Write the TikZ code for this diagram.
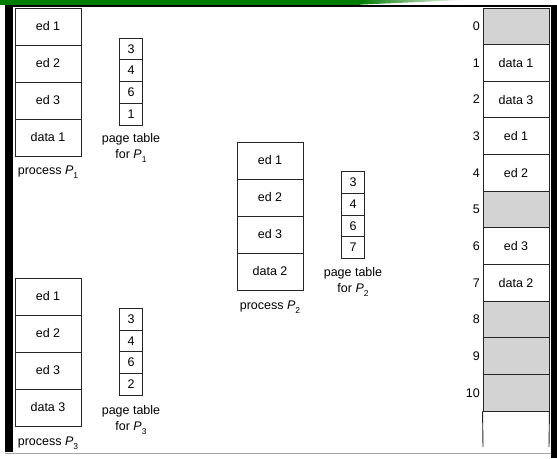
\documentclass[tikz,border=0pt]{standalone}
\usepackage{fontspec}
\setmainfont{Liberation Sans}
\definecolor{barGreen}{RGB}{0,125,0}
\definecolor{freeGray}{RGB}{211,211,211}
\newcommand\pidx[1]{\textit{P}\raisebox{-0.6ex}{\fontsize{8.5}{8.5}\selectfont #1}}
\begin{document}
\begin{tikzpicture}[x=1pt,y=-1pt,
  every node/.style={font=\fontsize{12.5}{16}\selectfont, inner sep=0pt},
  outline/.style={draw=black!85, line width=0.9pt},
  segbox/.style={outline, minimum width=66pt, minimum height=37pt},
  ptbox/.style={outline, minimum width=23.5pt, minimum height=21.7pt},
  framebox/.style={outline, minimum width=66pt, minimum height=36.64pt},
  freebox/.style={framebox, fill=freeGray},
  caption/.style={align=center},
  framenum/.style={anchor=east}
]
\useasboundingbox (0,0) rectangle (557,458);

% slide decoration: green band and black border
\fill[barGreen] (0,0) -- (360,0) -- (360,4.6) -- (0,4.6) -- cycle;
\shade[left color=barGreen, right color=white] (360,0) -- (465,0) -- (360,4.6) -- cycle;
\fill[black] (5,4.6) rectangle (557,7);
\fill[black] (5,4.6) rectangle (13,452);
\fill[black] (550.5,4.6) rectangle (557,458);
\draw[black!35, line width=1pt] (5,453) -- (550.5,453);

% process P1 and its page table
\foreach \t [count=\i] in {ed 1, ed 2, ed 3, data 1}
  \node[segbox] (pa\i) at (48, 37*\i-10.5) {\t};
\node (palab) at (48,172) {process \pidx{1}};
\foreach \t [count=\i] in {3,4,6,1}
  \node[ptbox] (ta\i) at (131, 38+21.75*\i-10.875) {\t};
\node[caption] (tacap) at (131,147.5) {page table\\for \pidx{1}};

% process P2 and its page table
\foreach \t [count=\i] in {ed 1, ed 2, ed 3, data 2}
  \node[segbox] (pb\i) at (270, 142+37*\i-18.5) {\t};
\node (pblab) at (270,307) {process \pidx{2}};
\foreach \t [count=\i] in {3,4,6,7}
  \node[ptbox] (tb\i) at (353, 171.7+21.65*\i-10.825) {\t};
\node[caption] (tbcap) at (353,282) {page table\\for \pidx{2}};

% process P3 and its page table
\foreach \t [count=\i] in {ed 1, ed 2, ed 3, data 3}
  \node[segbox] (pc\i) at (48, 278+37*\i-18.5) {\t};
\node (pclab) at (48,443) {process \pidx{3}};
\foreach \t [count=\i] in {3,4,6,2}
  \node[ptbox] (tc\i) at (131, 308.3+21.7*\i-10.85) {\t};
\node[caption] (tccap) at (131,420) {page table\\for \pidx{3}};

% physical memory frames
\foreach \k/\t/\s in {0//freebox, 1/data 1/framebox, 2/data 3/framebox,
    3/ed 1/framebox, 4/ed 2/framebox, 5//freebox, 6/ed 3/framebox,
    7/data 2/framebox, 8//freebox, 9//freebox, 10//freebox} {
  \node[\s] (m\k) at (516, 8+36.64*\k+18.32) {\t};
  \node[framenum] (n\k) at (480, 8+36.64*\k+18.32) {\k};
}
\coordinate (mbl) at (483,447);
\coordinate (mbr) at (549,447);
\draw[outline] (m10.south west) -- (mbl);
\draw[outline] (m10.south east) -- (mbr);
\end{tikzpicture}
\end{document}
